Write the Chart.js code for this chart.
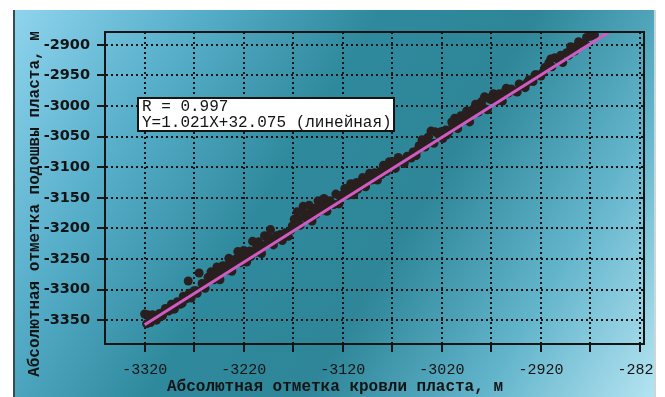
<!DOCTYPE html>
<html><head><meta charset="utf-8">
<script src="https://cdn.jsdelivr.net/npm/chart.js@4.4.0/dist/chart.umd.min.js"></script>
<style>html,body{margin:0;padding:0;background:#fff;}#wrap{width:665px;height:397px;position:relative;}</style>
</head><body><div id="wrap"><canvas id="c" width="665" height="397"></canvas></div>
<script>
const xVals=[-3320,-3317,-3314,-3311,-3308,-3305,-3302,-3299,-3296,-3293,
-3290,-3287,-3284,-3281,-3276,-3278,-3273,-3270,-3265,-3267,
-3262,-3259,-3256,-3253,-3250,-3247,-3244,-3241,-3238,-3235,
-3232,-3229,-3226,-3223,-3220,-3217,-3214,-3211,-3208,-3205,
-3202,-3199,-3196,-3193,-3190,-3187,-3184,-3181,-3178,-3175,
-3172,-3169,-3166,-3163,-3160,-3157,-3154,-3151,-3148,-3145,
-3142,-3139,-3136,-3133,-3130,-3127,-3124,-3121,-3118,-3115,
-3112,-3109,-3106,-3103,-3100,-3097,-3094,-3091,-3088,-3085,
-3082,-3079,-3076,-3073,-3070,-3067,-3064,-3061,-3058,-3055,
-3052,-3049,-3046,-3043,-3040,-3037,-3034,-3031,-3028,-3025,
-3022,-3019,-3016,-3013,-3010,-3007,-3004,-3001,-2998,-2995,
-2992,-2989,-2986,-2983,-2980,-2977,-2974,-2971,-2968,-2965,
-2962,-2959,-2956,-2953,-2948,-2944,-2940,-2936,-2932,-2928,
-2924,-2920,-2916,-2912,-2909,-2906,-2902,-2898,-2894,-2890,
-2886,-2882,-2878,-2874,-2870,-2866,
-3318,-3312,-3306,-3300,-3294,-3288,-3282,-3275,-3268,-3261,
-3255,-3249,-3243,-3237,-3231,-3225,-3219,-3213,-3207,-3201,
-3195,-3189,-3183,-3177,-3171,-3165,-3159,-3153,-3147,-3141,
-3135,-3129,-3123,-3117,-3111,-3105,-3099,-3093,-3087,-3081,
-3075,-3069,-3063,-3057,-3051,-3045,-3039,-3033,-3027,-3021,
-3015,-3009,-3003,-2997,-2991,-2985,-2979,-2973,-2967,-2961,
-2955,-2950,-2942,-2934,-2926,-2918,-2910,-2900,-2892,-2884,
-2876,-2868];
const yVals=[-3340,-3341,-3354,-3344,-3350,-3339,-3343,-3331,-3335,-3324,
-3332,-3320,-3324,-3311,-3286,-3315,-3314,-3302,-3273,-3306,
-3290,-3298,-3280,-3271,-3284,-3263,-3284,-3261,-3269,-3249,
-3270,-3251,-3238,-3256,-3236,-3255,-3237,-3221,-3239,-3222,
-3241,-3212,-3223,-3202,-3227,-3212,-3216,-3220,-3207,-3213,
-3202,-3185,-3173,-3195,-3164,-3183,-3162,-3188,-3167,-3155,
-3171,-3151,-3172,-3155,-3160,-3144,-3160,-3146,-3135,-3146,
-3127,-3145,-3125,-3130,-3117,-3132,-3117,-3121,-3109,-3121,
-3107,-3097,-3107,-3091,-3098,-3102,-3084,-3091,-3094,-3082,
-3084,-3075,-3081,-3065,-3055,-3067,-3051,-3041,-3061,-3044,
-3049,-3053,-3039,-3042,-3026,-3020,-3037,-3016,-3023,-3008,
-3026,-3006,-2997,-3010,-2993,-2985,-3006,-2989,-2980,-2992,
-2980,-2992,-2976,-2979,-2975,-2977,-2966,-2970,-2957,-2960,
-2949,-2951,-2937,-2929,-2936,-2921,-2925,-2929,-2913,-2903,
-2910,-2895,-2898,-2888,-2886,-2884,
-3356,-3341,-3344,-3335,-3333,-3324,-3322,-3306,-3302,-3295,
-3285,-3275,-3273,-3261,-3261,-3247,-3246,-3246,-3230,-3230,
-3214,-3220,-3210,-3211,-3196,-3185,-3175,-3175,-3177,-3161,
-3161,-3161,-3147,-3144,-3134,-3136,-3124,-3110,-3115,-3112,
-3100,-3091,-3091,-3087,-3085,-3073,-3063,-3059,-3042,-3042,
-3047,-3032,-3024,-3016,-3016,-3004,-3001,-2987,-2989,-2987,
-2971,-2972,-2964,-2962,-2949,-2945,-2923,-2917,-2917,-2902,
-2898,-2880];
const fitX=[-3320,-2845];
const fitY=[-3357.6,-2872.6];
const xTicks=[-3320,-3270,-3220,-3170,-3120,-3070,-3020,-2970,-2920,-2870,-2820];
const xTickLabels=['-3320','','-3220','','-3120','','-3020','','-2920','','-2820'];
const yTicks=[-3350,-3300,-3250,-3200,-3150,-3100,-3050,-3000,-2950,-2900];
const yTickLabels=['-3350','-3300','-3250','-3200','-3150','-3100','-3050','-3000','-2950','-2900'];
const xTitle='Абсолютная отметка кровли пласта, м';
const yTitle='Абсолютная отметка подошвы пласта, м';
const noteLines=['R = 0.997','Y=1.021X+32.075 (линейная)'];

const ink='#141414';
const bgPlugin={id:'bg',beforeDraw(chart){
  const c=chart.ctx;c.save();
  c.fillStyle='#fff';c.fillRect(0,0,665,397);
  const g=c.createLinearGradient(14,10,655,397);
  g.addColorStop(0,'#8fd4ee');g.addColorStop(0.22,'#55adc8');g.addColorStop(0.42,'#2f899c');
  g.addColorStop(0.6,'#2e8698');g.addColorStop(0.8,'#62b4cb');g.addColorStop(1,'#b5e4f2');
  c.fillStyle=g;c.fillRect(14,10,641,387);
  c.fillStyle='#3a4a52';c.fillRect(13,10,2,387);
  c.restore();
}};
const decoPlugin={id:'deco',afterDraw(chart){
  const c=chart.ctx,a=chart.chartArea;c.save();
  c.strokeStyle=ink;c.lineWidth=2;c.strokeRect(a.left,a.top,a.right-a.left,a.bottom-a.top);
  const bx=a.left+33,by=a.top+66;
  c.fillStyle='#fff';c.fillRect(bx,by,256,33);
  c.strokeStyle=ink;c.lineWidth=2;c.strokeRect(bx,by,256,33);
  c.fillStyle=ink;c.font='16px "Liberation Mono"';c.textAlign='left';c.textBaseline='middle';
  c.fillText(noteLines[0],bx+4,by+9);c.fillText(noteLines[1],bx+4,by+25);
  c.font='bold 16px "Liberation Mono"';c.textAlign='center';
  c.fillText(xTitle,a.left+230,387);
  c.translate(35,204);c.rotate(-Math.PI/2);c.fillText(yTitle,0,0);
  c.restore();
  c.save();c.fillStyle='#fff';c.fillRect(656,0,9,397);c.fillStyle='#c9d6da';c.fillRect(654,10,2,387);c.restore();
}};

new Chart(document.getElementById('c'),{
  type:'scatter',
  data:{datasets:[
    {type:'line',data:fitX.map((x,i)=>({x:x,y:fitY[i]})),borderColor:'#cf5cc3',borderWidth:3,pointRadius:0,fill:false,order:0},
    {type:'scatter',data:xVals.map((x,i)=>({x:x,y:yVals[i]})),backgroundColor:'#2a1f1f',borderWidth:0,pointRadius:4.5,order:1}
  ]},
  options:{
    responsive:false,animation:false,
    layout:{padding:{left:14,top:32,right:21,bottom:0}},
    plugins:{legend:{display:false},tooltip:{enabled:false}},
    scales:{
      x:{type:'linear',min:-3360,max:-2816,
        afterBuildTicks(s){s.ticks=xTicks.map(v=>({value:v}));},
        afterFit(s){s.height=53;s.paddingLeft=0;s.paddingRight=0;},
        ticks:{color:ink,font:{family:'Liberation Mono',size:15},padding:9,maxRotation:0,autoSkip:false,
          callback(v){const i=xTicks.indexOf(v);return i>=0?xTickLabels[i]:'';}},
        grid:{color:ink,lineWidth:2,tickLength:8,tickColor:ink,tickWidth:2,tickBorderDash:[]},
        border:{display:true,color:ink,width:2,dash:[2,3]},title:{display:false}},
      y:{type:'linear',min:-3389,max:-2879,
        afterBuildTicks(s){s.ticks=yTicks.map(v=>({value:v}));},
        afterFit(s){s.width=91;s.paddingTop=0;s.paddingBottom=0;},
        ticks:{color:ink,font:{family:'DejaVu Sans',size:14.5,weight:'bold'},padding:7,autoSkip:false,
          callback(v){const i=yTicks.indexOf(v);return i>=0?yTickLabels[i]:'';}},
        grid:{color:ink,lineWidth:2,tickLength:8,tickColor:ink,tickWidth:2,tickBorderDash:[]},
        border:{display:true,color:ink,width:2,dash:[2,3]},title:{display:false}}
    }
  },
  plugins:[bgPlugin,decoPlugin]
});
</script></body></html>
